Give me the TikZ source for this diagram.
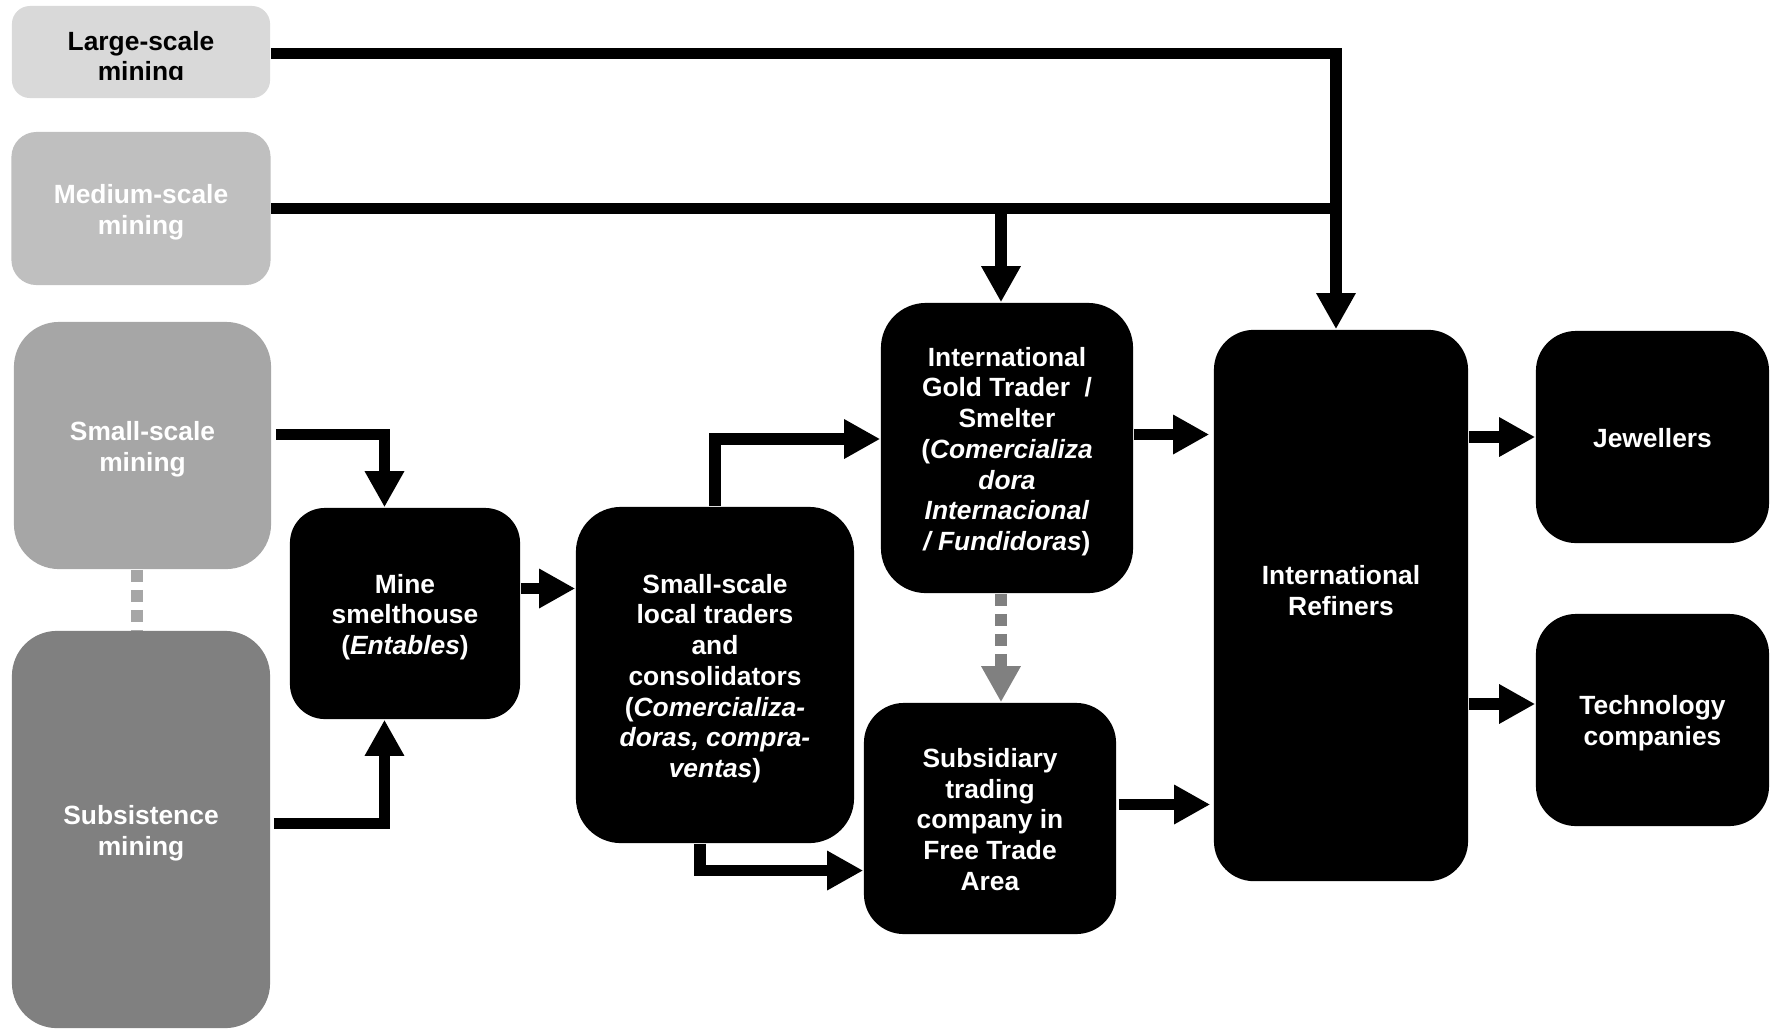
\documentclass[tikz,border=0pt]{standalone}
\usepackage{fontspec}
\setmainfont{Liberation Sans}
\usetikzlibrary{arrows.meta,calc}
\definecolor{gLarge}{HTML}{D9D9D9}
\definecolor{gMed}{HTML}{BFBFBF}
\definecolor{gSmall}{HTML}{A6A6A6}
\definecolor{gSub}{HTML}{808080}
\newcommand\bxt[1]{\raisebox{-0.042cm}[\height][\depth]{\begin{tabular}{@{}c@{}}#1\end{tabular}}}
\tikzset{
  box/.style={rounded corners=0.4cm, fill=black, draw=none, text=white,
    font=\fontsize{7.5}{8.75}\selectfont\bfseries, inner sep=0pt},
  arr/.style={draw=black, line width=0.115cm, line join=miter, -{Triangle[width=0.37cm,length=0.36cm]}},
  plainline/.style={draw=black, line width=0.115cm, line join=miter},
  gdots/.style={draw=gSmall, line width=0.115cm, dash pattern=on 0.12cm off 0.08cm},
  garr/.style={draw=gSub, line width=0.115cm, dash pattern=on 0.12cm off 0.08cm,
    -{Triangle[width=0.37cm,length=0.36cm,fill=gSub]}},
}
\begin{document}
\begin{tikzpicture}[x=0.01cm,y=-0.01cm]
\useasboundingbox (0,0) rectangle (1771,1029);

% source boxes
\node[box, fill=gLarge, rounded corners=0.18cm, minimum width=2.58cm, minimum height=0.92cm] (large) at (141,52) {};
\begin{scope}
  \clip (11,6) rectangle (271,79.5);
  \node[box, fill=none, text=black, font=\fontsize{7.5}{8.5}\selectfont\bfseries] (largetext) at (141,55.5) {\bxt{Large-scale\\mining}};
\end{scope}
\node[box, fill=gMed, rounded corners=0.25cm, minimum width=2.59cm, minimum height=1.53cm] (medium) at (141,208.5) {\bxt{Medium-scale\\mining}};
\node[box, fill=gSmall, rounded corners=0.45cm, minimum width=2.57cm, minimum height=2.47cm] (small) at (142.5,445.5) {\bxt{Small-scale\\mining}};
\node[box, fill=gSub, rounded corners=0.45cm, minimum width=2.58cm, minimum height=3.97cm] (subsist) at (141,829.5) {\bxt{Subsistence\\mining}};

% black boxes
\node[box, rounded corners=0.35cm, minimum width=2.30cm, minimum height=2.11cm] (mine) at (405,613.5) {\bxt{Mine\\smelthouse\\(\textit{Entables})}};
\node[box, rounded corners=0.45cm, minimum width=2.78cm, minimum height=3.36cm] (traders) at (715,675) {\bxt{Small-scale\\local traders\\and\\consolidators\\(\textit{Comercializa-}\\\textit{doras, compra-}\\\textit{ventas})}};
\node[box, rounded corners=0.45cm, minimum width=2.52cm, minimum height=2.90cm] (igt) at (1007,448) {\bxt{International\\Gold Trader~~/\\Smelter\\(\textit{Comercializa}\\\textit{dora}\\\textit{Internacional}\\\textit{/ Fundidoras})}};
\node[box, rounded corners=0.4cm, minimum width=2.52cm, minimum height=2.31cm] (subsid) at (990,818.5) {\bxt{Subsidiary\\trading\\company in\\Free Trade\\Area}};
\node[box, rounded corners=0.4cm, minimum width=2.54cm, minimum height=5.51cm] (refiners) at (1341,605.5) {};
\node[box, fill=none] (reftext) at (1341,589.5) {\bxt{International\\Refiners}};
\node[box, rounded corners=0.4cm, minimum width=2.33cm, minimum height=2.12cm] (jewel) at (1652.5,437) {\bxt{Jewellers}};
\node[box, rounded corners=0.4cm, minimum width=2.33cm, minimum height=2.12cm] (tech) at (1652.5,720) {\bxt{Technology\\companies}};

% connectors
\draw[arr] ([yshift=-0.015cm]large.east) -| ([xshift=-0.05cm]refiners.north);
\draw[plainline] (medium.east) -- ([xshift=-0.05cm]medium.east -| refiners.north);
\draw[arr] (medium.east) -| ([xshift=-0.06cm]igt.north);

\draw[arr] ([xshift=0.04cm,yshift=0.11cm]small.east) -| ([xshift=-0.205cm]mine.north);
\draw[arr] ([xshift=0.03cm,yshift=0.06cm]subsist.east) -| ([xshift=-0.205cm]mine.south);
\draw[gdots] ([xshift=-0.055cm]small.south) -- ([xshift=-0.055cm]small.south |- subsist.north);

\draw[arr] ([yshift=0.25cm]mine.east) -- ([yshift=0.25cm]mine.east -| traders.west);
\draw[arr] (traders.north) |- ([yshift=0.09cm]igt.west);
\draw[arr] ([xshift=-0.15cm]traders.south) |- ([yshift=-0.52cm]subsid.west);
\draw[garr] ([xshift=-0.06cm]igt.south) -- ([xshift=-0.06cm]igt.south |- subsid.north);

\draw[arr] ([yshift=0.135cm]igt.east) -- ([xshift=-0.04cm,yshift=0.135cm]igt.east -| refiners.west);
\draw[arr] ([xshift=0.02cm,yshift=0.14cm]subsid.east) -- ([xshift=-0.03cm,yshift=0.14cm]subsid.east -| refiners.west);
\draw[arr] (refiners.east |- jewel.west) -- (jewel.west);
\draw[arr] ([yshift=0.16cm]tech.west -| refiners.east) -- ([yshift=0.16cm]tech.west);
\end{tikzpicture}
\end{document}
